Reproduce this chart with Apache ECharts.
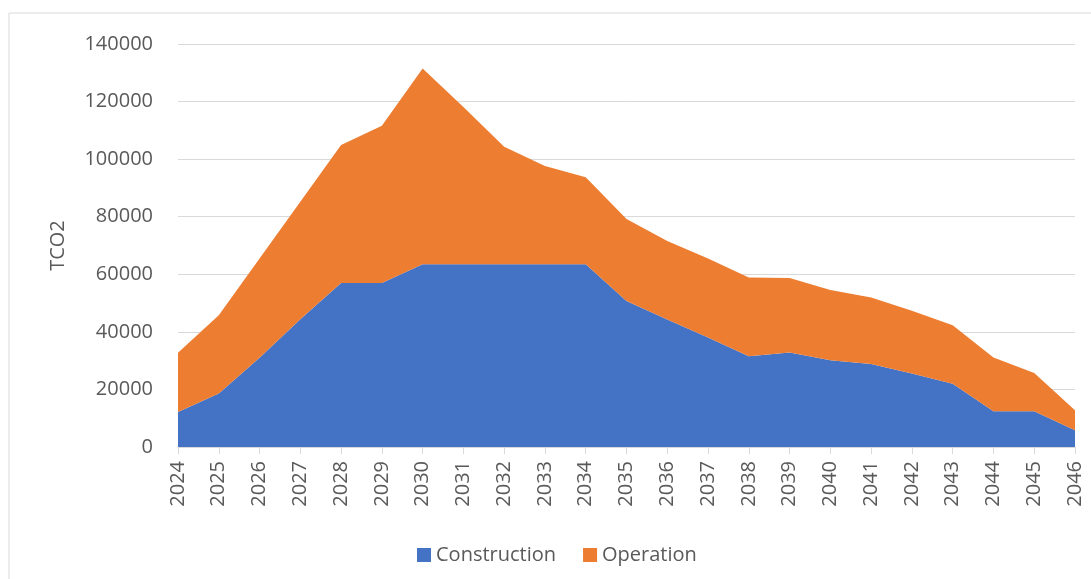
<!DOCTYPE html>
<html><head><meta charset="utf-8">
<script src="https://cdn.jsdelivr.net/npm/echarts@6/dist/echarts.min.js"></script>
<style>html,body{margin:0;padding:0;background:#fff}#c{width:1091px;height:579px}</style>
</head><body><div id="c"></div>
<script>
const years = ['2024','2025','2026','2027','2028','2029','2030','2031','2032','2033','2034','2035','2036','2037','2038','2039','2040','2041','2042','2043','2044','2045','2046'];
const construction = [12200,18600,31000,44400,57000,57000,63500,63500,63500,63500,63500,50700,44300,38000,31500,32800,30100,28800,25500,22000,12400,12400,5800];
const operation = [20500,27200,34500,40800,47900,54600,68000,54600,40800,34100,30200,28500,27300,27500,27400,25900,24400,23100,21800,20300,18700,13300,7000];
const yTicks = {min:0, max:140000, interval:20000};
const font = '"Open Sans", "Liberation Sans", sans-serif';
const chart = echarts.init(document.getElementById('c'));
chart.setOption({
  animation:false,
  graphic:[{type:'rect',shape:{x:9,y:13,width:1100,height:600},style:{fill:'none',stroke:'#d9d9d9',lineWidth:1},silent:true}],
  grid:{left:178,right:16,top:44,bottom:132},
  legend:{top:540,left:412,itemWidth:14,itemHeight:14,itemGap:27,itemTextGap:6,icon:'rect',
    textStyle:{color:'#595959',fontSize:20,fontFamily:font},
    data:['Construction','Operation']},
  xAxis:{type:'category',boundaryGap:false,data:years,
    axisLine:{lineStyle:{color:'#d9d9d9'}},
    axisTick:{show:true,alignWithLabel:true,lineStyle:{color:'#d9d9d9'},length:7},
    axisLabel:{rotate:90,color:'#595959',fontSize:20,fontFamily:font,margin:14,interval:0}},
  yAxis:{type:'value',min:yTicks.min,max:yTicks.max,interval:yTicks.interval,
    name:'TCO2',nameLocation:'middle',nameGap:110,nameRotate:90,
    nameTextStyle:{color:'#595959',fontSize:20,fontFamily:font},
    axisLine:{show:false},axisTick:{show:false},
    splitLine:{lineStyle:{color:'#d9d9d9',width:1}},
    axisLabel:{color:'#595959',fontSize:20,fontFamily:font,margin:25,formatter:v=>String(v)}},
  series:[
    {name:'Construction',type:'line',stack:'t',data:construction,symbol:'none',
      lineStyle:{width:0},itemStyle:{color:'#4472C4'},areaStyle:{color:'#4472C4',opacity:1}},
    {name:'Operation',type:'line',stack:'t',data:operation,symbol:'none',
      lineStyle:{width:0},itemStyle:{color:'#ED7D31'},areaStyle:{color:'#ED7D31',opacity:1}}
  ]
});
</script></body></html>
